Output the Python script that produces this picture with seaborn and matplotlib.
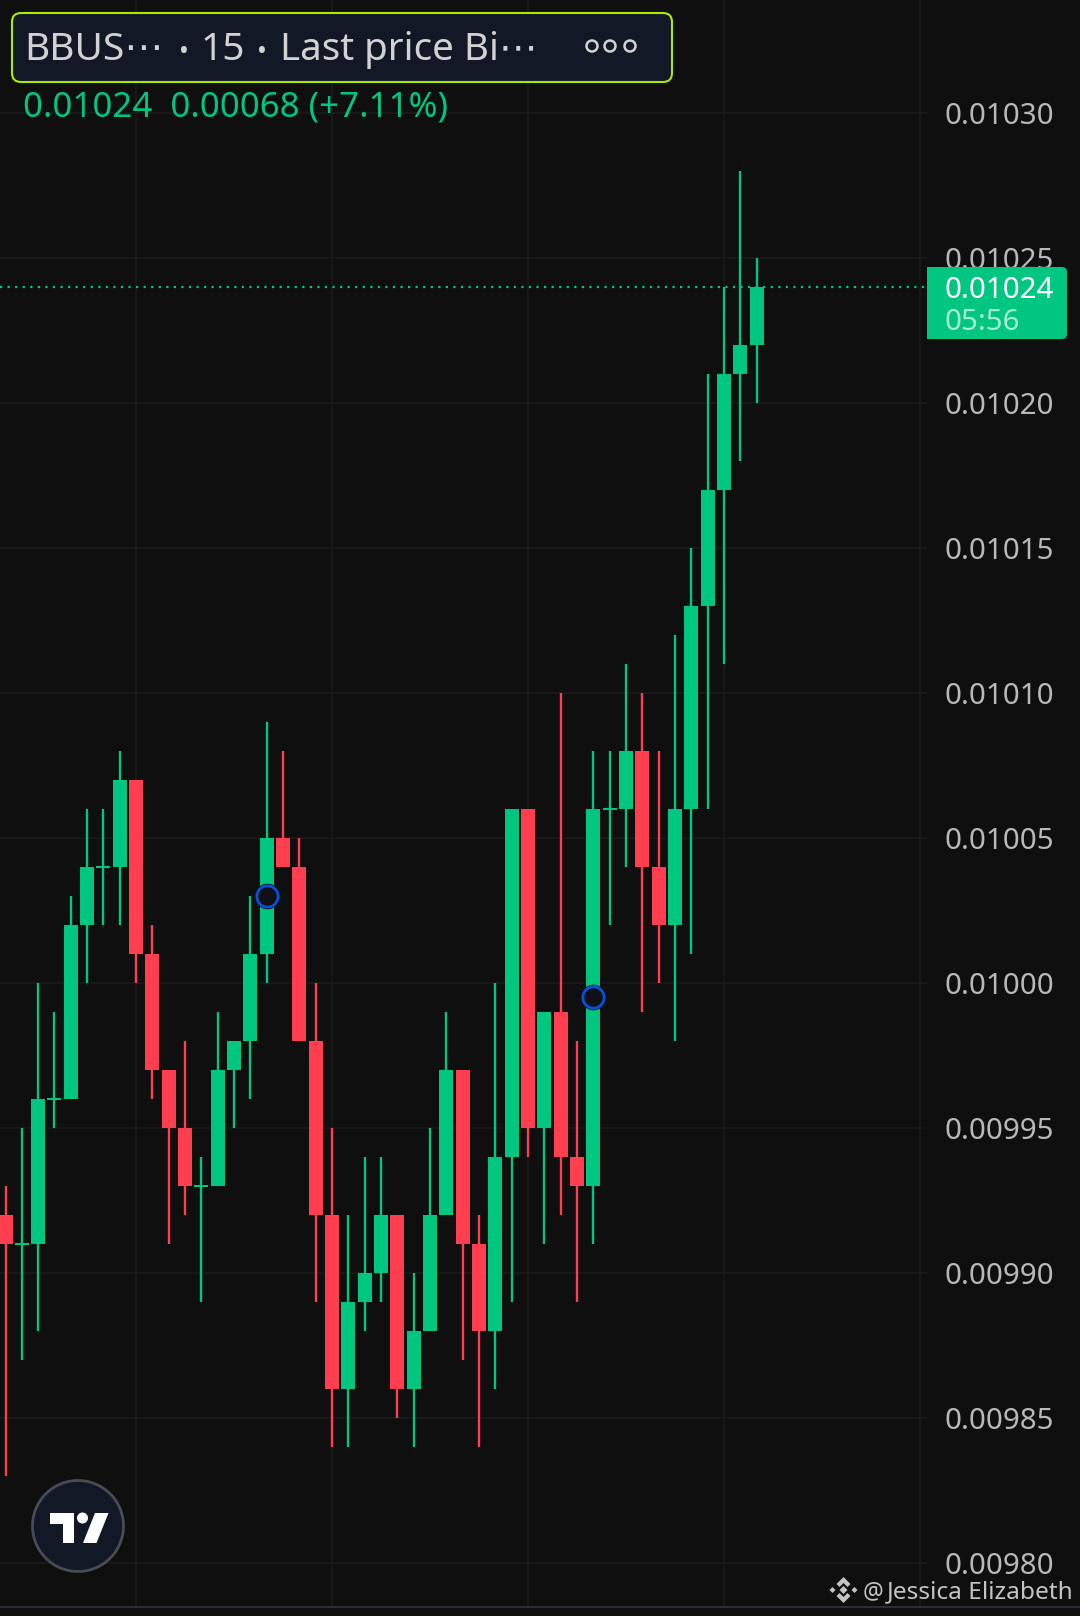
import numpy as np
import pandas as pd
import matplotlib
matplotlib.use('Agg')
import matplotlib.pyplot as plt
import seaborn as sns
from matplotlib.patches import Circle, FancyBboxPatch, Polygon, Rectangle

# Candles, in units of the 0.00001 price step
opens = [992, 991, 991, 996, 996, 1002, 1004, 1004, 1007, 1001, 997, 995, 993, 993, 997, 998,
         1001, 1005, 1004, 998, 992, 986, 989, 990, 992, 986, 988, 992, 997, 991, 988, 994,
         1006, 995, 999, 994, 993, 1006, 1006, 1008, 1004, 1002, 1006, 1013, 1017, 1021, 1022]
closes = [991, 991, 996, 996, 1002, 1004, 1004, 1007, 1001, 997, 995, 993, 993, 997, 998, 1001,
          1005, 1004, 998, 992, 986, 989, 990, 992, 986, 988, 992, 997, 991, 988, 994, 1006,
          995, 999, 994, 993, 1006, 1006, 1008, 1004, 1002, 1006, 1013, 1017, 1021, 1022, 1024]
highs = [993, 995, 1000, 999, 1003, 1006, 1006, 1008, 1007, 1002, 997, 998, 994, 999, 998, 1003,
         1009, 1008, 1005, 1000, 995, 992, 994, 994, 992, 990, 995, 999, 997, 992, 1000, 1006,
         1006, 999, 1010, 998, 1008, 1008, 1011, 1010, 1008, 1012, 1015, 1021, 1024, 1028, 1025]
lows = [983, 987, 988, 995, 996, 1000, 1002, 1002, 1000, 996, 991, 992, 989, 993, 995, 996,
        1000, 1004, 998, 989, 984, 984, 988, 989, 985, 984, 988, 992, 987, 984, 986, 989,
        994, 991, 992, 989, 991, 1002, 1004, 999, 1000, 998, 1001, 1006, 1011, 1018, 1020]
is_up = [False, True, True, True, True, True, True, True, False, False, False, False, True, True,
         True, True, True, False, False, False, False, True, True, True, False, True, True, True,
         False, False, True, True, False, True, False, False, True, True, True, False, False,
         True, True, True, True, True, True]

# Blue event markers sitting on two candles
marker_candles = [16, 36]
marker_prices = [1003, 999.5]

price_ticks = [980, 985, 990, 995, 1000, 1005, 1010, 1015, 1020, 1025, 1030]
time_grid = [8, 20, 32, 44, 56]

PRICE_STEP = 1e-5
BG = '#0f0f0f'
GRID = '#1a1a1a'
GREEN = '#00c67f'
RED = '#ff3f4f'
LABEL = '#b9b9b9'
PANEL = '#131826'
FONT = ['Noto Sans', 'DejaVu Sans']

sns.set_theme(style='dark', rc={'axes.facecolor': BG, 'figure.facecolor': BG})
plt.rcParams['font.family'] = FONT

# Build tables for seaborn
candles = pd.DataFrame({'candle': np.arange(len(opens)), 'open': opens, 'close': closes,
                        'high': highs, 'low': lows, 'up': is_up})
candles['side'] = np.where(candles['up'], 'up', 'down')
# flat candles still show a thin bar
candles['size'] = np.maximum((candles['close'] - candles['open']).abs(), 0.07) * PRICE_STEP
candles['base'] = (candles[['open', 'close']].min(axis=1)
                   - np.where(candles['open'] == candles['close'], 0.035, 0)) * PRICE_STEP
wicks = candles.melt(id_vars=['candle', 'side'], value_vars=['low', 'high'], value_name='price')
wicks['price'] = wicks['price'] * PRICE_STEP
palette = {'up': GREEN, 'down': RED}

fig = plt.figure(figsize=(10.8, 16.16), dpi=100)
ax = fig.add_axes([0, 10 / 1616, 927 / 1080, 1606 / 1616])

# ----------------------------------------------------
# Candles
# ----------------------------------------------------
sns.lineplot(data=wicks, x='candle', y='price', hue='side', units='candle', estimator=None,
             palette=palette, linewidth=1.7, solid_capstyle='butt', legend=False, sort=False,
             zorder=3, ax=ax)
for side, color in palette.items():
    part = candles[candles['side'] == side]
    sns.barplot(data=part, x='candle', y='size', native_scale=True, color=color, saturation=1,
                width=0.857, errorbar=None, bottom=part['base'].values, linewidth=0, zorder=4, ax=ax)

# Last price line
ax.axhline(closes[-1] * PRICE_STEP, color=GREEN, linewidth=1.6, linestyle=(0, (1, 2.4)), zorder=2)

# Event markers
event_x = np.array(marker_candles)
event_y = np.array(marker_prices) * PRICE_STEP
sns.scatterplot(x=event_x, y=event_y, s=340, color=BG, linewidth=0, zorder=5, ax=ax)
sns.scatterplot(x=event_x, y=event_y, s=235, color='#0f1116', edgecolor='#0b50d8', linewidth=2,
                zorder=6, ax=ax)

# ----------------------------------------------------
# Axes, grid and price labels
# ----------------------------------------------------
ax.set_xlim(-0.337, 56.43)
ax.set_ylim(978.506 * PRICE_STEP, 1033.905 * PRICE_STEP)
ax.set_xticks(time_grid)
ax.set_xticklabels([])
ax.set_yticks([p * PRICE_STEP for p in price_ticks])
ax.set_yticklabels([f'{p * PRICE_STEP:.5f}' for p in price_ticks])
ax.yaxis.tick_right()
ax.tick_params(axis='y', length=0, pad=12.7, labelsize=21.2, labelcolor=LABEL)
ax.tick_params(axis='x', length=0)
ax.set_xlabel('')
ax.set_ylabel('')
ax.grid(True, color=GRID, linewidth=1.3)
ax.set_axisbelow(True)
for spine in ax.spines.values():
    spine.set_visible(False)

# ----------------------------------------------------
# Overlay in pixel coordinates: header, price tag, logo
# ----------------------------------------------------
over = fig.add_axes([0, 0, 1, 1])
over.set_xlim(0, 1080)
over.set_ylim(1616, 0)
over.axis('off')

over.add_patch(Rectangle((0, 1605.5), 1080, 2, color='#2a2e39', linewidth=0))

# Header box
over.add_patch(FancyBboxPatch((12, 13), 660, 69, boxstyle='round,pad=0,rounding_size=9',
                              facecolor=PANEL, edgecolor='#a9ea00', linewidth=1.5))
over.text(24, 60, 'BBUS\u22ef', color='#d2d2d2', fontsize=28, family=FONT)
over.text(179, 60, '\u2022', color='#d2d2d2', fontsize=19, family=FONT)
over.text(201, 60, '15', color='#d2d2d2', fontsize=28, family=FONT)
over.text(257, 60, '\u2022', color='#d2d2d2', fontsize=19, family=FONT)
over.text(280, 60, 'Last price Bi\u22ef', color='#d2d2d2', fontsize=27.7, family=FONT)
for cx in (592, 610, 630):
    over.add_patch(Circle((cx, 46), 5.5, facecolor='none', edgecolor='#d2d2d2', linewidth=1.8))
over.text(23, 116, '0.01024  0.00068 (+7.11%)', color=GREEN, fontsize=25.1, family=FONT)

# Price tag
over.add_patch(FancyBboxPatch((927, 267), 140, 72, boxstyle='round,pad=0,rounding_size=5',
                              facecolor=GREEN, edgecolor='none'))
over.add_patch(Rectangle((927, 267), 20, 72, color=GREEN, linewidth=0))
over.text(945, 298, '0.01024', color='white', fontsize=21.2, family=FONT)
over.text(945, 330, '05:56', color='#a5eed3', fontsize=21.2, family=FONT)

# TradingView logo
over.add_patch(Circle((78, 1526), 45.5, facecolor=PANEL, edgecolor='#4a4c55', linewidth=2))
over.add_patch(Polygon([(50, 1513), (74, 1513), (74, 1543), (63, 1543), (63, 1523.5), (50, 1523.5)],
                       color='white', linewidth=0))
over.add_patch(Circle((82.5, 1518), 5.5, color='white', linewidth=0))
over.add_patch(Polygon([(95, 1513), (108.5, 1513), (96.5, 1543), (83, 1543)], color='white', linewidth=0))

# Watermark
cx, cy = 843.5, 1590
mark = '#c4c4c4'
for sign in (-1, 1):
    over.add_patch(Polygon([(cx, cy + sign * 13), (cx + 7, cy + sign * 6), (cx + 4, cy + sign * 3),
                            (cx, cy + sign * 7), (cx - 4, cy + sign * 3), (cx - 7, cy + sign * 6)],
                           color=mark, linewidth=0))
    over.add_patch(Polygon([(cx + sign * 14, cy), (cx + sign * 11, cy + 3), (cx + sign * 8, cy),
                            (cx + sign * 11, cy - 3)], color=mark, linewidth=0))
over.add_patch(Polygon([(cx, cy - 4), (cx + 4, cy), (cx, cy + 4), (cx - 4, cy)], color=mark, linewidth=0))
over.text(863, 1598, '@', color=mark, fontsize=16.5, family=FONT)
over.text(887, 1598, 'Jessica Elizabeth', color=mark, fontsize=17.6, family=FONT)

fig.savefig('out.png', dpi=100, facecolor=BG)
